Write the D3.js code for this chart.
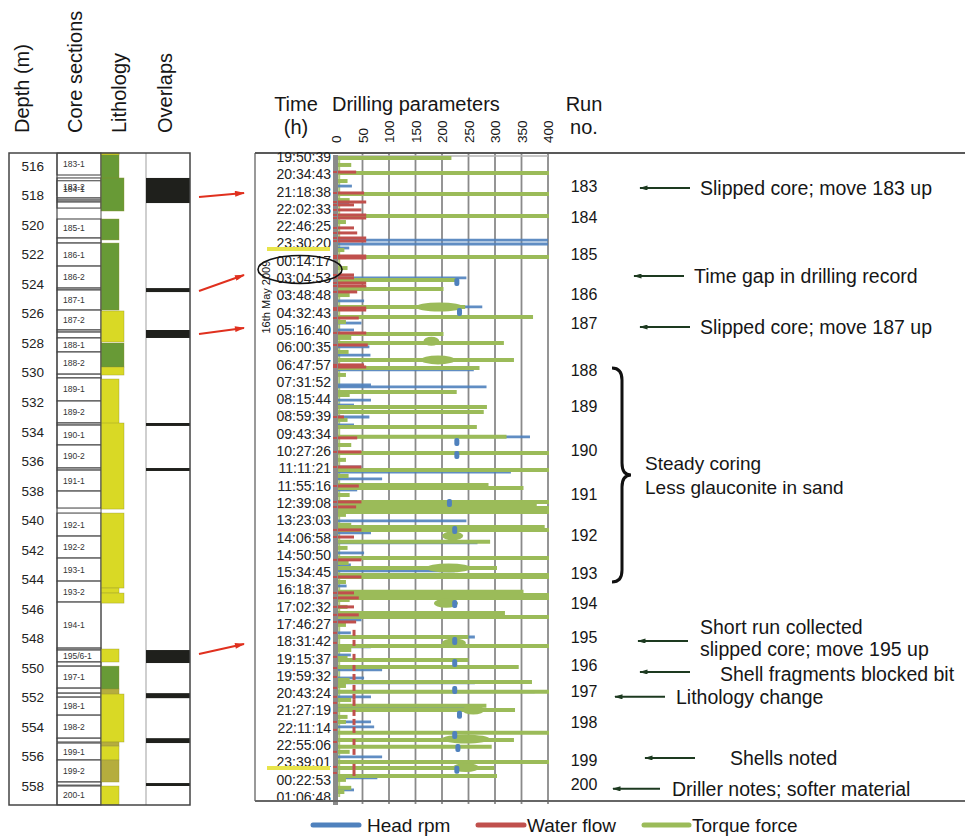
<!DOCTYPE html>
<html>
<head>
<meta charset="utf-8">
<script src="https://cdn.jsdelivr.net/npm/d3@7"></script>
<style>
body { margin: 0; background: #fff; }
text { font-family: "Liberation Sans", Arial, Helvetica, sans-serif; fill: #161616; }
</style>
</head>
<body>
<script>
// ---- data ----
var depthTicks = [516, 518, 520, 522, 524, 526, 528, 530, 532, 534, 536, 538, 540, 542, 544, 546, 548, 550, 552, 554, 556, 558];
var xTicks = [0, 50, 100, 150, 200, 250, 300, 350, 400];
var timeLabels = ["19:50:39", "20:34:43", "21:18:38", "22:02:33", "22:46:25", "23:30:20", "00:14:17", "03:04:53",
  "03:48:48", "04:32:43", "05:16:40", "06:00:35", "06:47:57", "07:31:52", "08:15:44", "08:59:39", "09:43:34",
  "10:27:26", "11:11:21", "11:55:16", "12:39:08", "13:23:03", "14:06:58", "14:50:50", "15:34:45", "16:18:37",
  "17:02:32", "17:46:27", "18:31:42", "19:15:37", "19:59:32", "20:43:24", "21:27:19", "22:11:14", "22:55:06",
  "23:39:01", "00:22:53", "01:06:48"];

// core sections: name, top depth, bottom depth (m)
var coreSections = [
  ["183-1", 515.12, 516.61], ["183-2", 516.81, 517.98], ["184-1", 517.0, 518.17], ["", 518.17, 518.31],
  ["", 518.31, 518.44], ["", 518.44, 518.85], ["185-1", 519.59, 520.88], ["", 520.88, 521.22],
  ["186-1", 521.22, 522.78], ["186-2", 522.78, 524.27], ["", 524.27, 524.40], ["187-1", 524.40, 525.76],
  ["187-2", 525.76, 527.11], ["", 527.11, 527.25], ["", 527.25, 527.65], ["188-1", 527.65, 528.60],
  ["188-2", 528.60, 530.10], ["", 530.10, 530.36], ["189-1", 530.36, 531.92], ["189-2", 531.92, 533.41],
  ["", 533.41, 533.55], ["190-1", 533.55, 534.90], ["190-2", 534.90, 536.46], ["", 536.46, 536.60],
  ["191-1", 536.60, 538.02], ["", 538.02, 539.17], ["192-1", 539.51, 541.07], ["192-2", 541.07, 542.56],
  ["193-1", 542.56, 544.12], ["193-2", 544.12, 545.54], ["194-1", 545.54, 548.66], ["", 548.66, 548.79],
  ["195/6-1", 548.79, 549.60], ["", 549.60, 549.88], ["197-1", 549.88, 551.37], ["", 551.37, 551.71],
  ["", 551.71, 551.98], ["198-1", 551.98, 553.20], ["198-2", 553.20, 554.76], ["", 554.76, 555.02],
  ["199-1", 555.09, 556.24], ["199-2", 556.24, 557.73], ["", 557.73, 557.94], ["200-1", 558.0, 559.28]
];

// lithology: top, bottom, type (g = glauconitic, s = sand, o = shelly sand), core piece (0 / 1)
var lithology = [
  [515.12, 518.85, "g", 0], [516.81, 519.05, "g", 1], [515.12, 515.25, "s", 0], [519.59, 521.01, "g", 0],
  [521.22, 525.76, "g", 0], [525.82, 527.92, "s", 1], [527.99, 529.62, "g", 1], [529.62, 530.16, "s", 1],
  [530.43, 533.61, "s", 0], [533.41, 539.24, "s", 1], [539.51, 544.59, "s", 1], [544.59, 544.93, "s", 0],
  [544.93, 545.61, "s", 1], [548.72, 549.60, "s", 0], [549.88, 551.43, "g", 0], [551.43, 552.05, "o", 0],
  [551.77, 555.02, "s", 1], [555.02, 555.30, "o", 0], [555.30, 556.24, "s", 0], [556.24, 557.73, "o", 0],
  [558.0, 559.28, "s", 0]
];

// overlaps: top, bottom depth
var overlaps = [[516.81, 518.51], [524.27, 524.54], [527.11, 527.65], [533.41, 533.61], [536.46, 536.66],
  [548.79, 549.67], [551.71, 552.05], [554.76, 555.09], [557.80, 558.0]];

// slipped core arrows: depth -> time row
var slipArrows = [[518.10, 2.08], [524.47, 6.82], [527.38, 9.88], [549.06, 28.15]];

// drilling record, positions in time-row units, values in chart units
var torqueSpikes = [[0.06, 214], [0.92, 400], [2.14, 400], [3.41, 400], [5.78, 400], [7.11, 224], [7.63, 199],
  [8.67, 240], [9.25, 368], [10.23, 199], [10.75, 313], [11.73, 332], [12.20, 267], [13.58, 224], [14.45, 281],
  [14.74, 275], [15.61, 262], [16.18, 318], [17.11, 400], [18.09, 400], [18.96, 284], [19.13, 350], [19.94, 400],
  [20.12, 375], [20.29, 400], [20.52, 400], [21.39, 390], [21.56, 400], [22.25, 287], [23.18, 400], [23.76, 300],
  [24.16, 400], [24.28, 400], [25.14, 350], [25.32, 400], [25.49, 400], [26.36, 315], [26.59, 400], [27.75, 246],
  [28.27, 400], [29.08, 246], [29.48, 341], [30.35, 366], [30.92, 400], [31.73, 280], [31.97, 334], [33.29, 400],
  [33.70, 332], [34.10, 290], [34.97, 400], [35.32, 295], [35.78, 300]];
var torqueSmall = [[0.46, 25], [1.39, 18], [2.49, 22], [3.76, 15], [5.38, 12], [6.42, 18], [7.98, 22], [9.54, 15],
  [10.46, 25], [11.27, 20], [12.60, 15], [13.76, 22], [15.20, 18], [16.65, 25], [17.51, 15], [18.44, 20],
  [19.54, 22], [20.69, 15], [21.27, 25], [22.60, 18], [23.47, 20], [24.57, 15], [25.61, 22], [26.01, 18],
  [27.05, 15], [28.50, 25], [28.96, 18], [30.23, 22], [30.58, 15], [31.39, 25], [32.37, 18], [32.66, 15],
  [34.39, 22], [36.01, 15], [36.47, 25], [36.71, 12]];
var torqueBlobs = [[8.67, 150, 240], [10.65, 165, 195], [11.73, 160, 225], [21.9, 200, 240], [23.76, 170, 255],
  [25.8, 185, 230], [28.1, 200, 245], [31.97, 238, 280], [33.65, 200, 290], [35.3, 220, 270]];
var rpmSpikes = [[0.06, 130], [1.68, 30], [2.66, 25], [4.80, 400], [5.03, 400], [5.26, 25], [5.78, 400], [6.99, 246],
  [7.57, 58], [8.32, 53], [8.67, 276], [9.60, 48], [10.0, 34], [10.98, 63], [11.45, 65], [12.31, 260], [13.18, 66],
  [13.29, 284], [14.05, 66], [14.34, 34], [15.03, 63], [15.49, 34], [16.18, 366], [17.92, 48], [18.21, 330],
  [18.61, 87], [19.25, 40], [20.29, 172], [21.04, 246], [21.39, 48], [21.73, 66], [22.31, 267], [22.89, 53],
  [23.18, 284], [23.58, 28], [23.93, 224], [24.80, 20], [25.43, 224], [26.76, 48], [27.51, 28], [27.75, 262],
  [28.32, 66], [28.79, 28], [29.65, 87], [30.12, 53], [30.40, 262], [30.92, 375], [31.21, 66], [31.85, 257],
  [32.66, 66], [32.95, 72], [34.68, 87], [35.90, 78], [36.59, 34]];
var rpmBlobs = [[7.23, 228], [8.96, 233], [16.47, 228], [17.23, 228], [20.0, 214], [21.56, 224], [25.84, 224],
  [27.98, 224], [29.25, 224], [30.81, 224], [32.25, 233], [33.41, 224], [34.16, 230], [35.43, 228]];
var flowSpikes = [[0.87, 38], [2.08, 53], [2.60, 57], [2.77, 34], [3.06, 48], [3.35, 57], [3.53, 57], [4.10, 34],
  [4.39, 40], [4.68, 57], [4.86, 57], [5.72, 57], [5.84, 57], [6.82, 34], [6.99, 34], [7.28, 57], [7.46, 57],
  [7.80, 40], [8.73, 57], [8.84, 57], [9.31, 43], [10.17, 57], [10.87, 60], [12.02, 53], [12.14, 57], [15.03, 15],
  [16.24, 40], [17.05, 48], [17.92, 48], [19.02, 43], [19.94, 48], [20.23, 38], [21.56, 48], [21.97, 34],
  [23.29, 48], [24.28, 48], [25.20, 34], [25.49, 43], [26.01, 34], [26.47, 43], [26.88, 38]];
var flowDashes = [27.51, 28.09, 28.90, 29.54, 30.06, 30.69, 31.21, 31.56, 32.14, 32.66, 33.12, 33.82, 34.39, 35.26, 35.61];
var flowLevel = 34;

// yellow day markers and the time gap
var markerRows = [5.32, 35.32];
var gapRows = [6, 7];

var runs = [[183, 1.68], [184, 3.47], [185, 5.61], [186, 7.92], [187, 9.60], [188, 12.31], [189, 14.39],
  [190, 16.99], [191, 19.48], [192, 21.85], [193, 24.05], [194, 25.78], [195, 27.80], [196, 29.42],
  [197, 30.92], [198, 32.66], [199, 34.86], [200, 36.3]];

var notes = [
  { row: 1.79, text: ["Slipped core; move 183 up"] },
  { row: 6.88, text: ["Time gap in drilling record"] },
  { row: 9.83, text: ["Slipped core; move 187 up"] },
  { row: 27.98, text: ["Short run collected", "slipped core; move 195 up"] },
  { row: 29.77, text: ["Shell fragments blocked bit"] },
  { row: 31.21, text: ["Lithology change"] },
  { row: 34.74, text: ["Shells noted"] },
  { row: 36.53, text: ["Driller notes; softer material"] }
];
var steadyRows = [12.2, 24.57];
var steadyText = ["Steady coring", "Less glauconite in sand"];

var series = ["Head rpm", "Water flow", "Torque force"];

// ---- layout ----
var colors = { rpm: "#4f81bd", flow: "#c0504d", torque: "#9bbb59" };
var lithoFill = { g: "#689a36", s: "#d9d925", o: "#b5ad3e" };
// arrow head x, arrow tail x, text x, text shift
var noteLayout = [[640, 690, 700, 0], [634, 684, 694, 0], [640, 690, 700, 0], [638, 688, 700, 0], [640, 690, 720, 2],
  [615, 665, 676, 0], [645, 695, 730, 0], [613, 660, 672, 0]];

var svg = d3.select("body").append("svg")
    .attr("width", 965)
    .attr("height", 838);

var depth = d3.scaleLinear().domain([516, 558]).range([166, 786]);
var row = d3.scaleLinear().domain([0, 37]).range([157, 797]);
var x = d3.scaleLinear().domain([0, 400]).range([336, 548]);

var defs = svg.append("defs");
defs.append("marker").attr("id", "arRed")
    .attr("viewBox", "0 0 10 6").attr("refX", 9).attr("refY", 3)
    .attr("markerWidth", 11).attr("markerHeight", 6).attr("markerUnits", "userSpaceOnUse")
    .attr("orient", "auto")
  .append("path").attr("d", "M0,0L10,3L0,6z").attr("fill", "#e0301e");
defs.append("marker").attr("id", "arGreen")
    .attr("viewBox", "0 0 10 6").attr("refX", 9).attr("refY", 3)
    .attr("markerWidth", 12).attr("markerHeight", 5).attr("markerUnits", "userSpaceOnUse")
    .attr("orient", "auto")
  .append("path").attr("d", "M0,0L10,3L0,6z").attr("fill", "#1d3a20");
defs.append("clipPath").attr("id", "plotClip")
  .append("rect").attr("x", 326).attr("y", 154).attr("width", 223).attr("height", 646);

// ---- left panel: depth / core / lithology / overlaps ----
var left = svg.append("g");
left.append("rect").attr("x", 9).attr("y", 153).attr("width", 181).attr("height", 652)
    .attr("fill", "#fff");

left.selectAll(".sec")
    .data(coreSections)
  .enter().append("rect")
    .attr("class", "sec")
    .attr("x", 57).attr("width", 44)
    .attr("y", function(d) { return depth(d[1]); })
    .attr("height", function(d) { return depth(d[2]) - depth(d[1]); })
    .attr("fill", "#fff").attr("stroke", "#3a3a3a").attr("stroke-width", 1);

left.selectAll(".secLabel")
    .data(coreSections.filter(function(d) { return d[0] !== ""; }))
  .enter().append("text")
    .attr("x", 63)
    .attr("y", function(d) { return (depth(d[1]) + depth(d[2])) / 2; })
    .attr("dy", "0.35em")
    .style("font-size", "8.5px")
    .style("fill", "#333")
    .text(function(d) { return d[0]; });

left.selectAll(".litho")
    .data(lithology)
  .enter().append("rect")
    .attr("x", 101)
    .attr("width", function(d) { return d[3] ? 23 : 18; })
    .attr("y", function(d) { return depth(d[0]); })
    .attr("height", function(d) { return depth(d[1]) - depth(d[0]); })
    .attr("fill", function(d) { return lithoFill[d[2]]; })
    .attr("stroke", "#8d8d2a").attr("stroke-width", 0.6).attr("stroke-opacity", 0.6);

left.append("line").attr("x1", 57).attr("x2", 57).attr("y1", 153).attr("y2", 805)
    .attr("stroke", "#444").attr("stroke-width", 1.2);
left.append("line").attr("x1", 101).attr("x2", 101).attr("y1", 153).attr("y2", 805)
    .attr("stroke", "#555").attr("stroke-width", 1);
left.append("line").attr("x1", 146).attr("x2", 146).attr("y1", 153).attr("y2", 805)
    .attr("stroke", "#cfcfcf").attr("stroke-width", 2);

left.selectAll(".ovl")
    .data(overlaps)
  .enter().append("rect")
    .attr("x", 146).attr("width", 44)
    .attr("y", function(d) { return depth(d[0]); })
    .attr("height", function(d) { return depth(d[1]) - depth(d[0]); })
    .attr("fill", "#1f201c");

left.append("rect").attr("x", 9).attr("y", 153).attr("width", 181).attr("height", 652)
    .attr("fill", "none").attr("stroke", "#444").attr("stroke-width", 1.5);

var depthAxis = left.append("g")
    .attr("transform", "translate(48,0)")
    .call(d3.axisLeft(depth).tickValues(depthTicks).tickSize(0).tickPadding(4));
depthAxis.select(".domain").remove();
depthAxis.selectAll("text").style("font-size", "13.5px").style("fill", "#222").attr("font-family", null);

// rotated column headers
[["Depth (m)", 29], ["Core sections", 82], ["Lithology", 126], ["Overlaps", 172]].forEach(function(h) {
  svg.append("text")
      .attr("transform", "translate(" + h[1] + ",133) rotate(-90)")
      .style("font-size", "20px")
      .text(h[0]);
});

// red arrows from overlaps to record
svg.selectAll(".slip")
    .data(slipArrows)
  .enter().append("line")
    .attr("x1", 199).attr("x2", 244)
    .attr("y1", function(d) { return depth(d[0]); })
    .attr("y2", function(d) { return row(d[1]); })
    .attr("stroke", "#e0301e").attr("stroke-width", 2)
    .attr("marker-end", "url(#arRed)");

// ---- drilling record panel ----
var mid = svg.append("g");

mid.selectAll(".grid")
    .data(xTicks.slice(1))
  .enter().append("line")
    .attr("x1", function(d) { return x(d); }).attr("x2", function(d) { return x(d); })
    .attr("y1", 154).attr("y2", 804)
    .attr("stroke", "#8a8a8a").attr("stroke-width", 1.8);
mid.append("line").attr("x1", x(0)).attr("x2", x(400)).attr("y1", 156).attr("y2", 156)
    .attr("stroke", "#b5b5b5").attr("stroke-width", 1.5);

var xAxis = mid.append("g")
    .attr("transform", "translate(0,143)")
    .call(d3.axisTop(x).tickValues(xTicks).tickSize(0));
xAxis.select(".domain").remove();
xAxis.selectAll("text")
    .attr("font-family", null)
    .style("font-size", "13.5px")
    .style("text-anchor", "start")
    .attr("x", 0).attr("y", 0).attr("dy", "0.35em")
    .attr("transform", "rotate(-90)");

var plot = mid.append("g").attr("clip-path", "url(#plotClip)");

// torque baseline near zero
plot.append("line")
    .attr("x1", x(6)).attr("x2", x(6)).attr("y1", row(0)).attr("y2", row(37))
    .attr("stroke", colors.torque).attr("stroke-width", 2).attr("opacity", 0.8);

plot.selectAll(".rpm")
    .data(rpmSpikes)
  .enter().append("line")
    .attr("x1", x(0)).attr("x2", function(d) { return x(d[1]); })
    .attr("y1", function(d) { return row(d[0]); }).attr("y2", function(d) { return row(d[0]); })
    .attr("stroke", colors.rpm).attr("stroke-width", 2.8).attr("opacity", 0.9);

plot.selectAll(".tq")
    .data(torqueSpikes.concat(torqueSmall))
  .enter().append("line")
    .attr("x1", x(0)).attr("x2", function(d) { return x(d[1]) + 2; })
    .attr("y1", function(d) { return row(d[0]); }).attr("y2", function(d) { return row(d[0]); })
    .attr("stroke", colors.torque).attr("stroke-width", 4);

plot.selectAll(".tqBlob")
    .data(torqueBlobs)
  .enter().append("ellipse")
    .attr("cx", function(d) { return (x(d[1]) + x(d[2])) / 2; })
    .attr("rx", function(d) { return (x(d[2]) - x(d[1])) / 2; })
    .attr("cy", function(d) { return row(d[0]); })
    .attr("ry", 4.5)
    .attr("fill", colors.torque);

plot.selectAll(".rpmBlob")
    .data(rpmBlobs)
  .enter().append("rect")
    .attr("x", function(d) { return x(d[1]) - 2.5; })
    .attr("y", function(d) { return row(d[0]) - 4; })
    .attr("width", 5).attr("height", 8).attr("rx", 2)
    .attr("fill", colors.rpm);

plot.selectAll(".flow")
    .data(flowSpikes)
  .enter().append("line")
    .attr("x1", x(0) - 3).attr("x2", function(d) { return x(d[1]); })
    .attr("y1", function(d) { return row(d[0]); }).attr("y2", function(d) { return row(d[0]); })
    .attr("stroke", colors.flow).attr("stroke-width", 3);

// zero axis bar
mid.append("rect")
    .attr("x", x(0) - 3).attr("y", 155).attr("width", 5).attr("height", 650)
    .attr("fill", "#8a8a8a");

mid.selectAll(".flowDash")
    .data(flowDashes)
  .enter().append("line")
    .attr("x1", x(flowLevel)).attr("x2", x(flowLevel))
    .attr("y1", function(d) { return row(d) - 3; }).attr("y2", function(d) { return row(d) + 3; })
    .attr("stroke", colors.flow).attr("stroke-width", 3);

mid.selectAll(".flowTick")
    .data(flowSpikes.concat(flowDashes.map(function(d) { return [d, 0]; })))
  .enter().append("line")
    .attr("x1", x(0) - 3).attr("x2", x(0) + 1)
    .attr("y1", function(d) { return row(d[0]); }).attr("y2", function(d) { return row(d[0]); })
    .attr("stroke", colors.flow).attr("stroke-width", 2);

// time axis
var tAxis = mid.append("g")
    .attr("transform", "translate(" + (x(0) - 3) + ",0)")
    .call(d3.axisLeft(row).tickValues(d3.range(timeLabels.length))
      .tickFormat(function(i) { return timeLabels[i]; }).tickSize(0).tickPadding(2));
tAxis.select(".domain").remove();
tAxis.selectAll("text").attr("font-family", null).style("font-size", "14px").style("fill", "#222");

// day markers
mid.selectAll(".mark")
    .data(markerRows)
  .enter().append("line")
    .attr("x1", 267).attr("x2", 330)
    .attr("y1", function(d) { return row(d); }).attr("y2", function(d) { return row(d); })
    .attr("stroke", "#e8e44a").attr("stroke-width", 4);

// time gap ellipse
mid.append("ellipse")
    .attr("cx", 300).attr("cy", (row(gapRows[0]) + row(gapRows[1])) / 2)
    .attr("rx", 42).attr("ry", 14)
    .attr("fill", "none").attr("stroke", "#111").attr("stroke-width", 1.6);

mid.append("text")
    .attr("transform", "translate(270," + row(8.1) + ") rotate(-90)")
    .style("font-size", "11px")
    .style("text-anchor", "middle")
    .text("16th May 2009");

// frame
mid.append("line").attr("x1", 255).attr("x2", 965).attr("y1", 153).attr("y2", 153)
    .attr("stroke", "#222").attr("stroke-width", 1.5);
mid.append("line").attr("x1", 255).attr("x2", 255).attr("y1", 153).attr("y2", 801)
    .attr("stroke", "#555").attr("stroke-width", 1.2);
mid.append("line").attr("x1", 255).attr("x2", 965).attr("y1", 801).attr("y2", 801)
    .attr("stroke", "#666").attr("stroke-width", 2);

// headers
mid.append("text").attr("x", 296).attr("y", 111).style("font-size", "20px").style("text-anchor", "middle").text("Time");
mid.append("text").attr("x", 296).attr("y", 134).style("font-size", "20px").style("text-anchor", "middle").text("(h)");
mid.append("text").attr("x", 332).attr("y", 111).style("font-size", "20px").text("Drilling parameters");
mid.append("text").attr("x", 584).attr("y", 111).style("font-size", "20px").style("text-anchor", "middle").text("Run");
mid.append("text").attr("x", 584).attr("y", 134).style("font-size", "20px").style("text-anchor", "middle").text("no.");

// run numbers
mid.selectAll(".run")
    .data(runs)
  .enter().append("text")
    .attr("x", 584)
    .attr("y", function(d) { return row(d[1]); })
    .attr("dy", "0.35em")
    .style("font-size", "16px")
    .style("text-anchor", "middle")
    .text(function(d) { return d[0]; });

// notes with arrows
notes.forEach(function(n, i) {
  var L = noteLayout[i], y = row(n.row);
  mid.append("line")
      .attr("x1", L[1]).attr("x2", L[0]).attr("y1", y).attr("y2", y)
      .attr("stroke", "#1d3a20").attr("stroke-width", 2)
      .attr("marker-end", "url(#arGreen)");
  n.text.forEach(function(t, j) {
    var dy = n.text.length > 1 ? (j === 0 ? -14 : 8) : L[3];
    mid.append("text")
        .attr("x", L[2]).attr("y", y + dy)
        .attr("dy", "0.35em")
        .style("font-size", "19.5px")
        .text(t);
  });
});

// steady coring brace
var b0 = row(steadyRows[0]), b1 = row(steadyRows[1]), bm = (b0 + b1) / 2;
mid.append("path")
    .attr("d", "M612," + b0 + " Q622," + b0 + " 622," + (b0 + 12) + " L622," + (bm - 12) +
      " Q622," + bm + " 631," + bm + " Q622," + bm + " 622," + (bm + 12) +
      " L622," + (b1 - 12) + " Q622," + b1 + " 612," + b1)
    .attr("fill", "none").attr("stroke", "#111").attr("stroke-width", 3);
steadyText.forEach(function(t, j) {
  mid.append("text")
      .attr("x", 645).attr("y", bm - 12 + j * 24)
      .attr("dy", "0.35em")
      .style("font-size", "19px")
      .text(t);
});

// legend
var legendX = [[313, 359, 367], [478, 524, 527], [644, 689, 692]];
var legendColor = [colors.rpm, colors.flow, colors.torque];
var legend = svg.append("g");
series.forEach(function(s, i) {
  legend.append("line")
      .attr("x1", legendX[i][0]).attr("x2", legendX[i][1]).attr("y1", 825).attr("y2", 825)
      .attr("stroke", legendColor[i]).attr("stroke-width", 5).attr("stroke-linecap", "round");
  legend.append("text")
      .attr("x", legendX[i][2]).attr("y", 825).attr("dy", "0.35em")
      .style("font-size", "19px")
      .text(s);
});
</script>
</body>
</html>
